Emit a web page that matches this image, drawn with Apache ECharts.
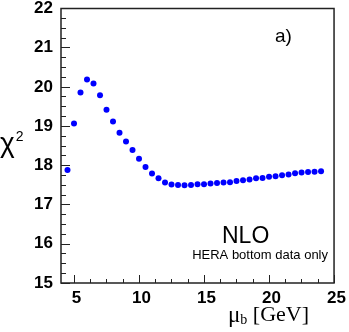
<!DOCTYPE html>
<html>
<head>
<meta charset="utf-8">
<script src="https://cdn.jsdelivr.net/npm/echarts@6/dist/echarts.min.js"></script>
<style>
  html, body { margin: 0; padding: 0; background: #fff; }
  #chart { width: 349px; height: 332px; }
</style>
</head>
<body>
<div id="chart"></div>
<script>
// mu_b scale points (GeV)
const muB = [4.5, 5, 5.5, 6, 6.5, 7, 7.5, 8, 8.5, 9, 9.5, 10, 10.5, 11, 11.5, 12, 12.5, 13, 13.5, 14,
  14.5, 15, 15.5, 16, 16.5, 17, 17.5, 18, 18.5, 19, 19.5, 20, 20.5, 21, 21.5, 22, 22.5, 23, 23.5, 24];
// chi2
const chi2 = [17.88, 19.07, 19.86, 20.19, 20.09, 19.79, 19.42, 19.12, 18.83, 18.61, 18.39, 18.17, 17.96, 17.79,
  17.67, 17.56, 17.51, 17.50, 17.49, 17.50, 17.52, 17.52, 17.54, 17.55, 17.56, 17.57, 17.60, 17.62, 17.64,
  17.67, 17.68, 17.71, 17.72, 17.75, 17.77, 17.80, 17.82, 17.83, 17.84, 17.85];

const xMajor = [5, 10, 15, 20, 25];
const xMinor = [6.25, 7.5, 8.75, 11.25, 12.5, 13.75, 16.25, 17.5, 18.75, 21.25, 22.5, 23.75];

const chart = echarts.init(document.getElementById('chart'));

const axisColor = '#222';
const labelFont = { fontFamily: 'Liberation Sans', fontWeight: 'bold', fontSize: 17, color: '#000' };

const option = {
  animation: false,
  grid: {
    left: 61, right: 12, top: 8, bottom: 49,
    show: true, borderColor: axisColor, borderWidth: 1.5, backgroundColor: 'transparent'
  },
  xAxis: [
    {
      type: 'value', min: 4, max: 25,
      splitLine: { show: false },
      axisLine: { show: false },
      axisTick: { inside: true, length: 8, customValues: xMajor, lineStyle: { color: axisColor, width: 1 } },
      axisLabel: Object.assign({ customValues: xMajor, margin: 7, padding: [0, 0, 0, 5] }, labelFont)
    },
    {
      type: 'value', min: 4, max: 25, position: 'bottom',
      splitLine: { show: false },
      axisLine: { show: false },
      axisTick: { inside: true, length: 4, customValues: xMinor, lineStyle: { color: axisColor, width: 1 } },
      axisLabel: { show: false }
    }
  ],
  yAxis: {
    type: 'value', min: 15, max: 22, interval: 1,
    splitLine: { show: false },
    axisLine: { show: false },
    axisTick: { inside: true, length: 9, lineStyle: { color: axisColor, width: 1 } },
    minorTick: { show: true, splitNumber: 4, length: 5, lineStyle: { color: axisColor, width: 1 } },
    axisLabel: Object.assign({ margin: 8 }, labelFont)
  },
  series: [{
    type: 'scatter',
    data: muB.map((m, i) => [m, chi2[i]]),
    symbolSize: 6,
    itemStyle: { color: '#0000ff', opacity: 1 }
  }],
  graphic: [
    {
      type: 'text', left: 0, top: 130,
      style: {
        text: '{a|χ}{s|2}',
        rich: {
          a: { fontFamily: 'Liberation Sans', fontSize: 28, fill: '#000' },
          s: { fontFamily: 'Liberation Sans', fontSize: 14, fill: '#000', verticalAlign: 'top', padding: [0, 0, 14, 1] }
        }
      }
    },
    {
      type: 'text', left: 228, top: 304,
      style: {
        text: '{m|μ}{b|b}{g| [GeV]}',
        rich: {
          m: { fontFamily: 'Liberation Serif', fontSize: 23, fill: '#000' },
          b: { fontFamily: 'Liberation Serif', fontSize: 14, fill: '#000', padding: [10, 0, 0, 0] },
          g: { fontFamily: 'Liberation Serif', fontSize: 22, fill: '#000' }
        }
      }
    },
    {
      type: 'text', left: 275, top: 27,
      style: { text: 'a)', fontFamily: 'Liberation Sans', fontSize: 19, fill: '#000' }
    },
    {
      type: 'text', left: 222, top: 225,
      style: { text: 'NLO', fontFamily: 'Liberation Sans', fontSize: 23, fill: '#000' }
    },
    {
      type: 'text', right: 21, top: 249,
      style: { text: 'HERA bottom data only', fontFamily: 'Liberation Sans', fontSize: 13, fill: '#000' }
    }
  ]
};

chart.setOption(option);
</script>
</body>
</html>
